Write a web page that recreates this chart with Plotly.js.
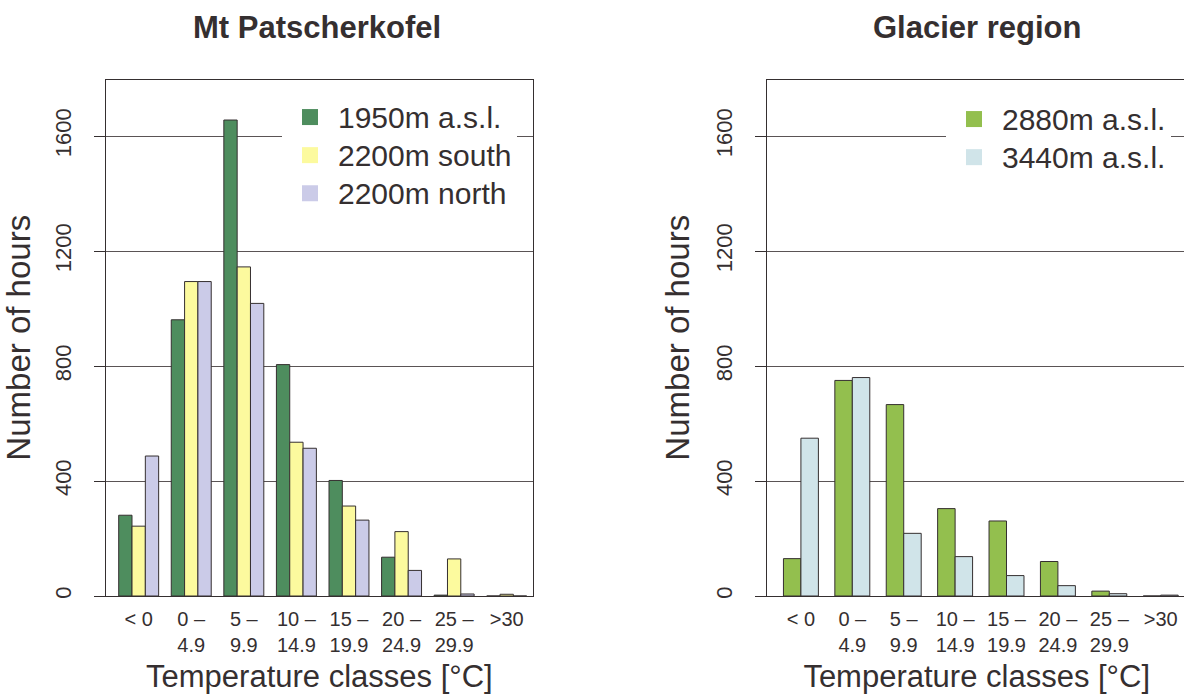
<!DOCTYPE html>
<html>
<head>
<meta charset="utf-8">
<script src="https://cdn.plot.ly/plotly-3.0.1.min.js"></script>
<style>
html,body{margin:0;padding:0;overflow:hidden;background:#fff;width:1184px;height:694px}
#chart{width:1200px;height:694px}
</style>
</head>
<body>
<div id="chart"></div>
<script>
// ---------------- data ----------------
const categories = ["< 0", "0 –<br>4.9", "5 –<br>9.9", "10 –<br>14.9", "15 –<br>19.9", "20 –<br>24.9", "25 –<br>29.9", ">30"];

// Mt Patscherkofel (hours per temperature class)
const patscher1950 = [281, 961, 1656, 805, 402, 135, 3, 0];
const patscher2200South = [243, 1094, 1145, 535, 313, 224, 129, 6];
const patscher2200North = [487, 1094, 1018, 514, 264, 89, 7, 0];

// Glacier region
const glacier2880 = [130, 750, 666, 304, 261, 120, 17, 0];
const glacier3440 = [549, 760, 218, 137, 71, 36, 8, 3];

const yTicks = [0, 400, 800, 1200, 1600];
const seriesNames = ["1950m a.s.l.", "2200m south", "2200m north", "2880m a.s.l.", "3440m a.s.l."];
const panelTitles = ["Mt Patscherkofel", "Glacier region"];
const xTitle = "Temperature classes [°C]";
const yTitle = "Number of hours";

// ---------------- style ----------------
const FONT = "Liberation Sans, Arial, Helvetica, sans-serif";
const INK = "#352f30";
const GRID = "#5a5455";
const W = 1200, H = 694;
const colors = ["#4e8d5e", "#fcfa9e", "#cbcbe8", "#93bf4e", "#d0e4e9"];

const leftRange = [-0.627, 7.5];
const rightRange = [-0.66, 7.5];
const yRange = [0, 1797];
const yDomain = [(H - 596) / H, (H - 79.5) / H];

const boundaryTicks = (r) => [r[0]].concat(categories.map((c, i) => i + 0.5));

function barTrace(vals, name, color, xa, ya, width, offset) {
  return {
    type: "bar", x: categories, y: vals, name: name, xaxis: xa, yaxis: ya,
    width: width, offset: offset, showlegend: false, hoverinfo: "skip",
    marker: {color: color, line: {color: INK, width: 1}}
  };
}
function legendTrace(name, color, xa, ya, legend) {
  return {
    type: "scatter", mode: "markers", x: [null], y: [null],
    name: '<span style="font-size:30px">' + name + '</span>',
    xaxis: xa, yaxis: ya, legend: legend, hoverinfo: "skip",
    marker: {symbol: "square", size: 16, color: color, line: {width: 0}}
  };
}

const wL = 0.76 / 3, wR = 0.34;
const data = [
  barTrace(patscher1950, seriesNames[0], colors[0], "x", "y", wL, -1.5 * wL),
  barTrace(patscher2200South, seriesNames[1], colors[1], "x", "y", wL, -0.5 * wL),
  barTrace(patscher2200North, seriesNames[2], colors[2], "x", "y", wL, 0.5 * wL),
  barTrace(glacier2880, seriesNames[3], colors[3], "x2", "y2", wR, -wR),
  barTrace(glacier3440, seriesNames[4], colors[4], "x2", "y2", wR, 0),
  legendTrace(seriesNames[0], colors[0], "x", "y", "legend"),
  legendTrace(seriesNames[1], colors[1], "x", "y", "legend"),
  legendTrace(seriesNames[2], colors[2], "x", "y", "legend"),
  legendTrace(seriesNames[3], colors[3], "x2", "y2", "legend2"),
  legendTrace(seriesNames[4], colors[4], "x2", "y2", "legend2")
];

function catAxis(domain, range, anchor) {
  return {
    domain: domain, anchor: anchor, type: "category",
    categoryorder: "array", categoryarray: categories, range: range,
    showline: true, mirror: true, linecolor: INK, linewidth: 1,
    ticks: "", showgrid: false, zeroline: false,
    tickfont: {family: FONT, size: 20, color: INK}, ticklabelstandoff: 5,
    title: {text: xTitle, font: {family: FONT, size: 31, color: INK}, standoff: 12}
  };
}
function tickAxis(over, range, anchor) {
  return {
    overlaying: over, anchor: anchor, type: "linear", range: range,
    tickmode: "array", tickvals: boundaryTicks(range), showticklabels: false,
    ticks: "outside", ticklen: 12, tickwidth: 1, tickcolor: INK,
    showgrid: false, zeroline: false, showline: false
  };
}
function valAxis(anchor) {
  return {
    domain: yDomain, anchor: anchor, range: yRange,
    tickmode: "array", tickvals: yTicks, ticks: "outside", ticklen: 11,
    tickwidth: 1, tickcolor: INK, tickangle: -90,
    tickfont: {family: FONT, size: 22, color: INK}, ticklabelstandoff: 14,
    showline: true, mirror: true, linecolor: INK, linewidth: 1,
    showgrid: true, gridcolor: GRID, gridwidth: 1, zeroline: false,
    title: {text: yTitle, font: {family: FONT, size: 33, color: INK}, standoff: 12}
  };
}

const legendBase = {
  xanchor: "left", yanchor: "top", bgcolor: "#fff", borderwidth: 0,
  itemwidth: 46, font: {family: FONT, size: 27, color: INK}
};

const layout = {
  width: W, height: H,
  margin: {l: 0, r: 0, t: 0, b: 0, pad: 0},
  paper_bgcolor: "#fff", plot_bgcolor: "#fff",
  font: {family: FONT, color: INK},
  barmode: "overlay",
  xaxis: catAxis([105.7 / W, 533 / W], leftRange, "y"),
  xaxis2: catAxis([767 / W, 1186.4 / W], rightRange, "y2"),
  xaxis3: tickAxis("x", leftRange, "y"),
  xaxis4: tickAxis("x2", rightRange, "y2"),
  yaxis: valAxis("x"),
  yaxis2: valAxis("x2"),
  legend: Object.assign({x: 282 / W, y: (H - 93) / H}, legendBase),
  legend2: Object.assign({x: 946 / W, y: (H - 95) / H}, legendBase),
  annotations: [
    {text: "<b>" + panelTitles[0] + "</b>", xref: "paper", yref: "paper",
     x: 317 / W, y: (H - 27) / H, xanchor: "center", yanchor: "middle", showarrow: false,
     font: {family: FONT, size: 31, color: INK}},
    {text: "<b>" + panelTitles[1] + "</b>", xref: "paper", yref: "paper",
     x: 977 / W, y: (H - 27) / H, xanchor: "center", yanchor: "middle", showarrow: false,
     font: {family: FONT, size: 31, color: INK}}
  ]
};

Plotly.newPlot("chart", data, layout, {displayModeBar: false, staticPlot: true});
</script>
</body>
</html>
